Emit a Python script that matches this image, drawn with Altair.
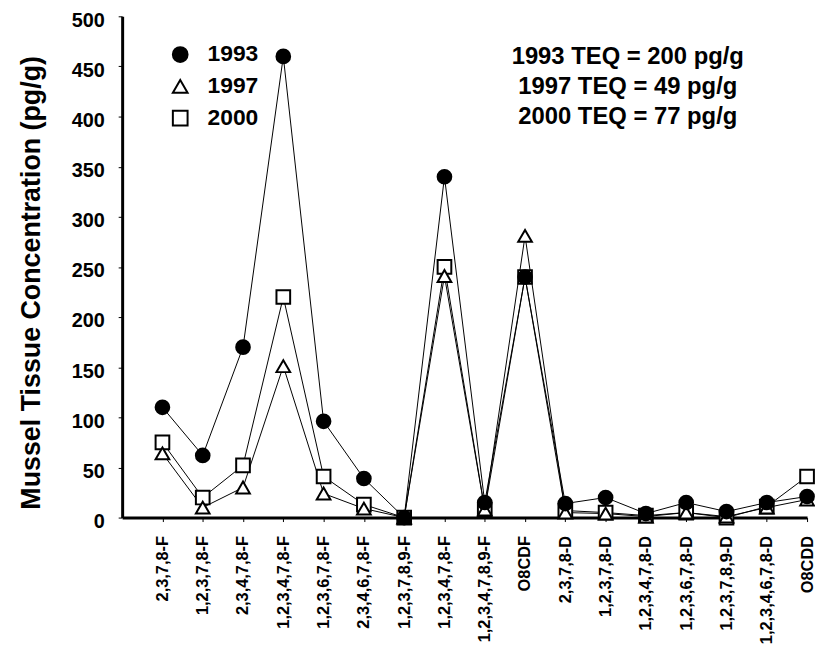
import altair as alt
import pandas as pd

congeners = ["2,3,7,8-F", "1,2,3,7,8-F", "2,3,4,7,8-F", "1,2,3,4,7,8-F", "1,2,3,6,7,8-F",
             "2,3,4,6,7,8-F", "1,2,3,7,8,9-F", "1,2,3,4,7,8-F", "1,2,3,4,7,8,9-F", "O8CDF",
             "2,3,7,8-D", "1,2,3,7,8-D", "1,2,3,4,7,8-D", "1,2,3,6,7,8-D", "1,2,3,7,8,9-D",
             "1,2,3,4,6,7,8-D", "O8CDD"]
v1993 = [110, 62, 170, 460, 96, 39, 0, 340, 15, 240, 14, 20, 4, 15, 6, 15, 21]
v1997 = [64, 10, 30, 151, 24, 9, 0, 241, 8, 281, 5, 4, 1, 5, 1, 10, 18]
v2000 = [75, 20, 52, 220, 41, 13, 0, 250, 8, 240, 7, 5, 2, 5, 0, 11, 41]
years = ["1993", "1997", "2000"]
teq_lines = ["1993 TEQ = 200 pg/g", "1997 TEQ = 49 pg/g", "2000 TEQ = 77 pg/g"]
teq_y = [459, 429, 400]

rows = []
for yr, vals in [("2000", v2000), ("1997", v1997), ("1993", v1993)]:
    for i, v in enumerate(vals):
        rows.append({"idx": i + 1, "year": yr, "value": v})
df = pd.DataFrame(rows)
teq_df = pd.DataFrame({"text": teq_lines, "x": [12.55] * 3, "y": teq_y})

FONT = "Liberation Sans"
label_expr = "[" + ",".join("'" + c + "'" for c in congeners) + "][datum.value - 1]"

xenc = alt.X("idx:Q",
             scale=alt.Scale(domain=[0, 17], nice=False, zero=False),
             axis=alt.Axis(values=list(range(1, 18)), labelExpr=label_expr, labelAngle=-90,
                           title=None, grid=False, domainWidth=3, domainColor="black",
                           tickColor="black", tickSize=4, labelPadding=14,
                           labelFont=FONT, labelFontSize=16.5, labelFontWeight="bold",
                           labelColor="black", labelOverlap=False, labelBound=False,
                           labelFlush=False))
yenc = alt.Y("value:Q",
             scale=alt.Scale(domain=[0, 500], nice=False),
             axis=alt.Axis(values=list(range(0, 501, 50)), title="Mussel Tissue Concentration (pg/g)",
                           grid=False, domainWidth=3, domainColor="black", tickColor="black",
                           tickSize=4, labelPadding=14, labelOffset=4,
                           labelFont=FONT, labelFontSize=20, labelFontWeight="bold", labelColor="black",
                           titleFont=FONT, titleFontSize=27, titleFontWeight="bold", titleColor="black",
                           titleX=-91, titleY=268, titleBaseline="middle", titleAngle=-90,
                           labelFlush=False))

lines = alt.Chart(df).mark_line(color="black", strokeWidth=1).encode(
    x=xenc, y=yenc, detail="year:N")

legend_kw = dict(title=None, orient="none", legendX=47, legendY=27,
                 labelFont=FONT, labelFontSize=23, labelFontWeight="bold",
                 labelColor="black", symbolSize=220, symbolStrokeColor="black",
                 symbolStrokeWidth=2, rowPadding=8, labelOffset=16, padding=0)

points = alt.Chart(df).mark_point(size=190, strokeWidth=2, opacity=1, fillOpacity=1).encode(
    x=xenc, y=yenc,
    shape=alt.Shape("year:N", scale=alt.Scale(domain=years, range=["circle", "triangle-up", "square"]),
                    legend=alt.Legend(**legend_kw)),
    fill=alt.Fill("year:N", scale=alt.Scale(domain=years, range=["black", "white", "white"]),
                  legend=alt.Legend(**legend_kw)),
    stroke=alt.Stroke("year:N", scale=alt.Scale(domain=years, range=["black", "black", "black"]),
                      legend=alt.Legend(**legend_kw)),
)

teq = alt.Chart(teq_df).mark_text(font=FONT, fontSize=24, fontWeight="bold", color="black",
                                  align="center", baseline="middle").encode(
    x=alt.X("x:Q"), y=alt.Y("y:Q"), text="text:N")

chart = alt.layer(lines, points, teq).properties(
    width=690, height=505,
    autosize=alt.AutoSizeParams(type="none"),
    padding={"left": 115, "top": 6, "right": 8, "bottom": 126},
).configure_view(stroke=None)

chart.save("out.html", embed_options={"renderer": "svg", "actions": False})
